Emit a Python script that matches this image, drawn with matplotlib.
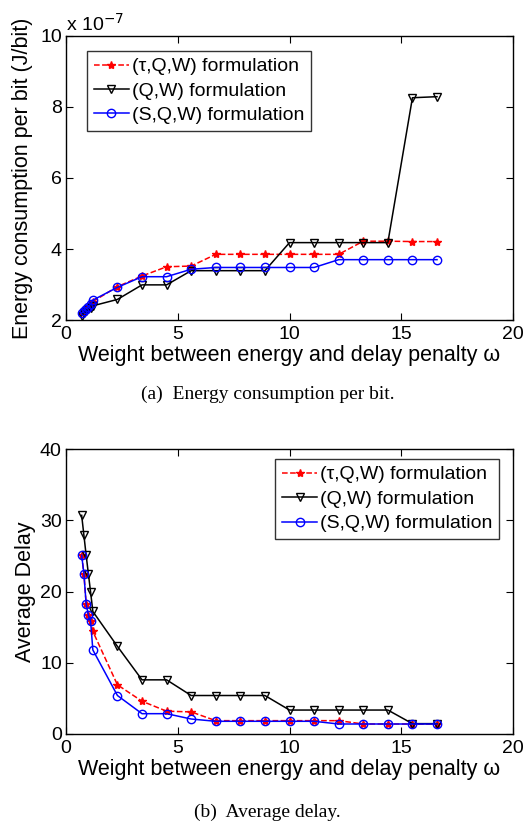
import matplotlib
matplotlib.use("Agg")
import matplotlib.pyplot as plt

plt.rcParams['font.family'] = ['Liberation Sans', 'DejaVu Sans']

# weight omega
omega = [0.7, 0.8, 0.9, 1.0, 1.1, 1.2, 2.3, 3.4, 4.5, 5.6, 6.7, 7.8, 8.9,
         10.0, 11.1, 12.2, 13.3, 14.4, 15.5, 16.6]

# energy per bit, in units of 1e-7 J/bit
energy_tau = [2.19, 2.26, 2.32, 2.38, 2.44, 2.52, 2.94, 3.24, 3.50, 3.52, 3.85, 3.85, 3.85,
              3.85, 3.85, 3.85, 4.22, 4.22, 4.21, 4.21]
energy_qw = [2.12, 2.20, 2.26, 2.30, 2.35, 2.40, 2.58, 2.99, 2.99, 3.39, 3.39, 3.39, 3.39,
             4.18, 4.18, 4.18, 4.18, 4.18, 8.26, 8.29]
energy_sqw = [2.20, 2.25, 2.32, 2.38, 2.44, 2.56, 2.92, 3.22, 3.22, 3.43, 3.48, 3.48, 3.48,
              3.48, 3.48, 3.70, 3.70, 3.70, 3.70, 3.70]

# average delay
delay_tau = [25.1, 22.5, 18.3, 16.7, 15.8, 14.4, 6.9, 4.6, 3.2, 3.1, 1.87, 1.87, 1.87,
             1.87, 1.87, 1.87, 1.4, 1.4, 1.4, 1.4]
delay_qw = [30.7, 27.9, 25.1, 22.5, 19.9, 17.2, 12.3, 7.6, 7.6, 5.4, 5.4, 5.4, 5.4,
            3.36, 3.36, 3.36, 3.36, 3.36, 1.45, 1.45]
delay_sqw = [25.1, 22.5, 18.3, 16.7, 15.8, 11.8, 5.4, 2.85, 2.85, 2.1, 1.78, 1.78, 1.78,
             1.78, 1.78, 1.4, 1.4, 1.4, 1.4, 1.4]

labels = ["(τ,Q,W) formulation", "(Q,W) formulation", "(S,Q,W) formulation"]
xlabel = "Weight between energy and delay penalty ω"


def draw(ax, tau, qw, sqw):
    ax.plot(omega, tau, 'r--', marker='*', markersize=6, linewidth=1.1, label=labels[0])
    ax.plot(omega, qw, 'k-', marker='v', markersize=6, markerfacecolor='none',
            linewidth=1.1, label=labels[1])
    ax.plot(omega, sqw, 'b-', marker='o', markersize=6, markerfacecolor='none',
            linewidth=1.1, label=labels[2])
    ax.set_xlim(0, 20)
    ax.set_xticks([0, 5, 10, 15, 20])
    ax.tick_params(direction='in', top=True, right=True, length=5, labelsize=14)
    ax.tick_params(axis='x', pad=4)
    ax.tick_params(axis='y', pad=3)
    ax.set_xlabel(xlabel, fontsize=15.5, labelpad=2)
    for s in ax.spines.values():
        s.set_linewidth(1.0)


def add_legend(ax, loc, anchor):
    leg = ax.legend(loc=loc, bbox_to_anchor=anchor, fontsize=14,
                    frameon=True, fancybox=False, edgecolor='black', handlelength=1.8,
                    handletextpad=0.15, borderpad=0.35, labelspacing=0.35, borderaxespad=0)
    leg.get_frame().set_linewidth(1.0)


fig = plt.figure(figsize=(5.24, 8.21), dpi=100)

ax1 = fig.add_axes([0.126, 0.6102, 0.853, 0.346])
draw(ax1, energy_tau, energy_qw, energy_sqw)
ax1.set_ylim(2, 10)
ax1.set_yticks([2, 4, 6, 8, 10])
ax1.set_ylabel("Energy consumption per bit (J/bit)", fontsize=15.5, labelpad=5)
ax1.text(0.0, 1.005, "x 10$^{-7}$", transform=ax1.transAxes, fontsize=14, va='bottom', ha='left')
add_legend(ax1, 'upper left', (0.047, 0.947))

ax2 = fig.add_axes([0.126, 0.106, 0.853, 0.347])
draw(ax2, delay_tau, delay_qw, delay_sqw)
ax2.set_ylim(0, 40)
ax2.set_yticks([0, 10, 20, 30, 40])
ax2.set_ylabel("Average Delay", fontsize=15.5, labelpad=3)
add_legend(ax2, 'upper right', (0.969, 0.965))

fig.text(0.511, 1 - 394 / 821, "(a)  Energy consumption per bit.", family='Liberation Serif',
         fontsize=14, ha='center', va='center')
fig.text(0.511, 1 - 812 / 821, "(b)  Average delay.", family='Liberation Serif',
         fontsize=14, ha='center', va='center')

fig.savefig("out.png", dpi=100)
